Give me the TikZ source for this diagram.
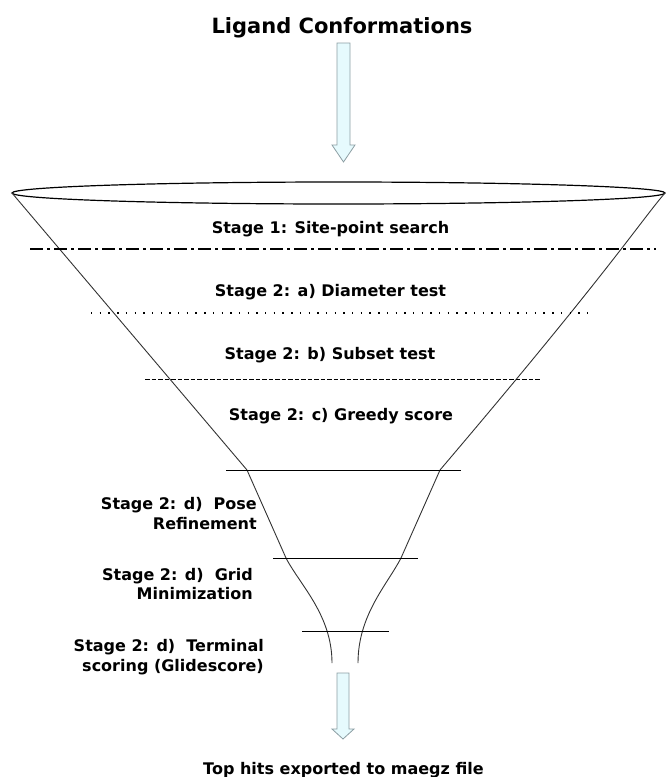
\documentclass[tikz,border=0pt]{standalone}
\usepackage{fontspec}
\setmainfont{DejaVu Sans}

\definecolor{arrowfill}{HTML}{E6FAFD}
\definecolor{arrowline}{HTML}{8C9EA3}
\definecolor{funnelgray}{HTML}{333333}

\tikzset{
  stagelabel/.style={font=\bfseries\fontsize{16}{19.5}\selectfont, inner sep=0pt},
  sidelabel/.style={stagelabel, align=right, anchor=east},
  flowarrow/.style={fill=arrowfill, draw=arrowline, line width=0.8pt},
  funnelline/.style={draw=funnelgray, line width=0.9pt},
}

\begin{document}
\begin{tikzpicture}[x=1pt,y=-1pt]
    \useasboundingbox (0,0) rectangle (666,777);

    \node[stagelabel, font=\bfseries\fontsize{21}{25}\selectfont, anchor=base] (title) at (342,33) {Ligand Conformations};

    \coordinate (intop) at (343.5,43);
    \filldraw[flowarrow] (intop) ++(-6.5,0) -- ++(0,102) -- ++(-5,0) -- ++(11.5,17) -- ++(11.5,-17) -- ++(-5,0) -- ++(0,-102) -- cycle;

    \draw[line width=1.2pt] (338.5,193) ellipse (326.5pt and 11pt);
    \draw[funnelline] (12,193) -- (247,470) -- (286,558) .. controls (300,585) and (332,615) .. (332,663);
    \draw[funnelline] (665,193) .. controls (640,222) and (610,270) .. (440,470) -- (401,558) .. controls (387,585) and (358,615) .. (358,663);

    \draw[line width=1.8pt, dash pattern=on 13pt off 4pt on 3pt off 4pt] (30,249) -- (656,249);
    \draw[line width=1.4pt, dash pattern=on 1.4pt off 7.3pt] (91,313) -- (594,313);
    \draw[line width=1pt, dash pattern=on 4.5pt off 2pt] (145,379) -- (540,379);
    \draw[line width=0.9pt] (226,470) -- (461,470);
    \draw[line width=0.9pt] (273,558) -- (418,558);
    \draw[line width=0.9pt] (302,631) -- (389,631);

    \node[stagelabel, anchor=base] (site) at (330.5,233) {Stage 1: Site-point search};
    \node[stagelabel, anchor=base] (diameter) at (330.5,296) {Stage 2: a) Diameter test};
    \node[stagelabel, anchor=base] (subset) at (330,359) {Stage 2: b) Subset test};
    \node[stagelabel, anchor=base] (greedy) at (341,420) {Stage 2: c) Greedy score};

    \node[sidelabel] (pose) at (257,513.5) {Stage 2: d)\ \ Pose\\Refinement};
    \node[sidelabel] (grid) at (253,584) {Stage 2: d)\ \ Grid\\Minimization};
    \node[sidelabel] (terminal) at (264,657) {Stage 2: d)\ \ Terminal\\scoring (Glidescore)};

    \coordinate (outtop) at (343,673);
    \filldraw[flowarrow] (outtop) ++(-6,0) -- ++(0,56) -- ++(-5,0) -- ++(11,10) -- ++(11,-10) -- ++(-5,0) -- ++(0,-56) -- cycle;

    \node[stagelabel, anchor=base] (tophits) at (343.5,774) {Top hits exported to maegz file};
\end{tikzpicture}
\end{document}
